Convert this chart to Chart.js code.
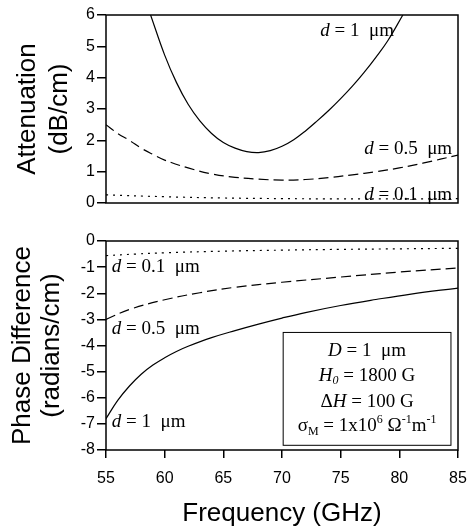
<!DOCTYPE html>
<html>
<head>
<meta charset="utf-8">
<script src="https://cdn.jsdelivr.net/npm/chart.js@4.4.0/dist/chart.umd.min.js"></script>
<style>
  html, body { margin: 0; padding: 0; background: #fff; }
  #wrap { position: relative; width: 470px; height: 531px; }
  #attChart { position: absolute; left: 0; top: 0; }
  #phaseChart { position: absolute; left: 0; top: 222px; }
</style>
</head>
<body>
<div id="wrap">
  <canvas id="attChart" width="470" height="222"></canvas>
  <canvas id="phaseChart" width="470" height="309"></canvas>
</div>
<script>
// attenuation (dB/cm) vs frequency (GHz)
const attFreq1 = [58.8, 60, 61, 62, 63, 64, 65, 66, 67, 68, 69, 70, 71, 72, 73, 74, 75, 76, 77, 78, 79, 80.3];
const att1 = [6.0, 4.72, 3.85, 3.15, 2.62, 2.22, 1.93, 1.75, 1.64, 1.61, 1.67, 1.81, 2.02, 2.3, 2.62, 2.96, 3.33, 3.73, 4.17, 4.65, 5.17, 6.0];
const attFreq05 = [55, 56, 57, 58, 59, 60, 62, 64, 66, 68, 70, 72, 74, 76, 78, 80, 82, 85];
const att05 = [2.5, 2.22, 2.0, 1.75, 1.55, 1.37, 1.12, 0.93, 0.82, 0.76, 0.73, 0.75, 0.81, 0.9, 1.0, 1.12, 1.27, 1.53];
const attFreq01 = [55, 60, 65, 70, 75, 80, 85];
const att01 = [0.26, 0.2, 0.16, 0.14, 0.13, 0.13, 0.14];

// phase difference (radians/cm) vs frequency (GHz)
const phFreq1 = [55, 56, 57, 58, 59, 60, 61, 62, 64, 66, 68, 70, 72, 75, 78, 81, 85];
const ph1 = [-6.8, -6.1, -5.55, -5.1, -4.75, -4.47, -4.23, -4.03, -3.7, -3.43, -3.18, -2.95, -2.74, -2.47, -2.24, -2.03, -1.8];
const phFreq05 = [55, 57, 60, 63, 66, 70, 75, 80, 85];
const ph05 = [-3.0, -2.62, -2.25, -1.98, -1.77, -1.58, -1.38, -1.19, -1.03];
const phFreq01 = [55, 57.5, 60, 65, 70, 75, 80, 85];
const ph01 = [-0.56, -0.5, -0.45, -0.39, -0.35, -0.32, -0.3, -0.28];

// curve labels: [freq, value, align, text parts]
const attLabels = [
  [79.55, 5.5, 'right', [{ t: 'd', i: 1 }, { t: ' = 1  μm' }]],
  [84.5, 1.73, 'right', [{ t: 'd', i: 1 }, { t: ' = 0.5  μm' }]],
  [84.5, 0.26, 'right', [{ t: 'd', i: 1 }, { t: ' = 0.1  μm' }]]
];
const phLabels = [
  [55.5, -1.0, 'left', [{ t: 'd', i: 1 }, { t: ' = 0.1  μm' }]],
  [55.5, -3.35, 'left', [{ t: 'd', i: 1 }, { t: ' = 0.5  μm' }]],
  [55.5, -6.92, 'left', [{ t: 'd', i: 1 }, { t: ' = 1  μm' }]]
];
// parameter box (data coords) and its lines
const boxX = [70.1, 84.4];
const boxY = [-3.5, -7.82];
const boxLines = [
  [-4.2, [{ t: 'D', i: 1 }, { t: ' = 1  μm' }]],
  [-5.15, [{ t: 'H', i: 1 }, { t: '0', i: 1, sub: 1 }, { t: ' = 1800 G' }]],
  [-6.15, [{ t: 'Δ' }, { t: 'H', i: 1 }, { t: ' = 100 G' }]],
  [-7.07, [{ t: 'σ' }, { t: 'M', sub: 1 }, { t: ' = 1x10' }, { t: '6', sup: 1 }, { t: ' Ω' }, { t: '-1', sup: 1 }, { t: 'm' }, { t: '-1', sup: 1 }]]
];

Chart.defaults.font.family = '"Liberation Sans", Arial, sans-serif';
Chart.defaults.color = '#000';

const serif = '"Liberation Serif", "Times New Roman", serif';
const SIZE = 19;

function pts(xs, ys) {
  return xs.map((x, i) => ({ x: x, y: ys[i] }));
}

function line(xs, ys, dash) {
  return {
    data: pts(xs, ys),
    showLine: true,
    borderColor: '#000',
    borderWidth: 1.2,
    borderDash: dash,
    pointRadius: 0,
    tension: 0.4
  };
}

function drawRich(ctx, parts, x, y, align) {
  const fontOf = p => (p.i ? 'italic ' : '') + ((p.sub || p.sup) ? Math.round(SIZE * 0.65) : SIZE) + 'px ' + serif;
  let w = 0;
  parts.forEach(p => { ctx.font = fontOf(p); w += ctx.measureText(p.t).width; });
  let cx = align === 'right' ? x - w : align === 'center' ? x - w / 2 : x;
  ctx.textAlign = 'left';
  ctx.textBaseline = 'middle';
  parts.forEach(p => {
    ctx.font = fontOf(p);
    const dy = p.sub ? SIZE * 0.3 : p.sup ? -SIZE * 0.3 : 0;
    ctx.fillText(p.t, cx, y + dy);
    cx += ctx.measureText(p.t).width;
  });
}

const frame = {
  id: 'frame',
  afterDatasetsDraw(chart) {
    const { ctx, chartArea: a } = chart;
    ctx.save();
    ctx.strokeStyle = '#000';
    ctx.lineWidth = 1.5;
    ctx.strokeRect(a.left, a.top, a.right - a.left, a.bottom - a.top);
    ctx.restore();
  }
};

function labelPlugin(labels, withBox) {
  return {
    id: 'labels',
    afterDraw(chart) {
      const { ctx, scales: { x, y } } = chart;
      ctx.save();
      ctx.fillStyle = '#000';
      labels.forEach(l => drawRich(ctx, l[3], x.getPixelForValue(l[0]), y.getPixelForValue(l[1]), l[2]));
      if (withBox) {
        const x1 = x.getPixelForValue(boxX[0]), x2 = x.getPixelForValue(boxX[1]);
        const y1 = y.getPixelForValue(boxY[0]), y2 = y.getPixelForValue(boxY[1]);
        ctx.fillStyle = '#fff';
        ctx.fillRect(x1, y1, x2 - x1, y2 - y1);
        ctx.strokeStyle = '#000';
        ctx.lineWidth = 1;
        ctx.strokeRect(x1, y1, x2 - x1, y2 - y1);
        ctx.fillStyle = '#000';
        const cx = (x1 + x2) / 2;
        boxLines.forEach(b => drawRich(ctx, b[1], cx, y.getPixelForValue(b[0]), 'center'));
      }
      ctx.restore();
    }
  };
}

const tickFont = { size: 16 };

new Chart(document.getElementById('attChart'), {
  type: 'scatter',
  data: {
    datasets: [
      line(attFreq1, att1, []),
      line(attFreq05, att05, [10, 5]),
      line(attFreq01, att01, [2, 5])
    ]
  },
  options: {
    responsive: false,
    animation: false,
    layout: { padding: { top: 15, right: 12, left: 0, bottom: 0 } },
    plugins: { legend: { display: false }, tooltip: { enabled: false } },
    scales: {
      x: {
        type: 'linear', min: 55, max: 85,
        ticks: { display: false, stepSize: 5 },
        grid: { display: false },
        border: { display: false },
        afterFit: s => { s.height = 19; }
      },
      y: {
        min: 0, max: 6,
        ticks: { stepSize: 1, font: tickFont, padding: 2 },
        grid: { drawOnChartArea: false, tickLength: 9, color: '#000', lineWidth: 1.5 },
        border: { display: false },
        title: {
          display: true, text: ['Attenuation', '(dB/cm)'],
          font: { size: 26, lineHeight: 1.23 }, padding: { top: 12, bottom: 0 }
        },
        afterFit: s => { s.width = 106; }
      }
    }
  },
  plugins: [frame, labelPlugin(attLabels, false)]
});

new Chart(document.getElementById('phaseChart'), {
  type: 'scatter',
  data: {
    datasets: [
      line(phFreq1, ph1, []),
      line(phFreq05, ph05, [10, 5]),
      line(phFreq01, ph01, [2, 5])
    ]
  },
  options: {
    responsive: false,
    animation: false,
    layout: { padding: { top: 19, right: 12, left: 0, bottom: 0 } },
    plugins: { legend: { display: false }, tooltip: { enabled: false } },
    scales: {
      x: {
        type: 'linear', min: 55, max: 85,
        ticks: { stepSize: 5, font: tickFont, padding: 11, maxRotation: 0 },
        grid: { drawOnChartArea: false, tickLength: 8, color: '#000', lineWidth: 1.5 },
        border: { display: false },
        title: {
          display: true, text: 'Frequency (GHz)',
          font: { size: 26, lineHeight: 1.2 }, padding: { top: 0, bottom: 2 }
        },
        afterFit: s => { s.height = 81; s.paddingLeft = 0; s.paddingRight = 0; }
      },
      y: {
        min: -8, max: 0,
        ticks: { stepSize: 1, font: tickFont, padding: 2 },
        grid: { drawOnChartArea: false, tickLength: 9, color: '#000', lineWidth: 1.5 },
        border: { display: false },
        title: {
          display: true, text: ['Phase Difference', '(radians/cm)'],
          font: { size: 26, lineHeight: 1.1 }, padding: { top: 9, bottom: 0 }
        },
        afterFit: s => { s.width = 106; }
      }
    }
  },
  plugins: [frame, labelPlugin(phLabels, true)]
});
</script>
</body>
</html>
